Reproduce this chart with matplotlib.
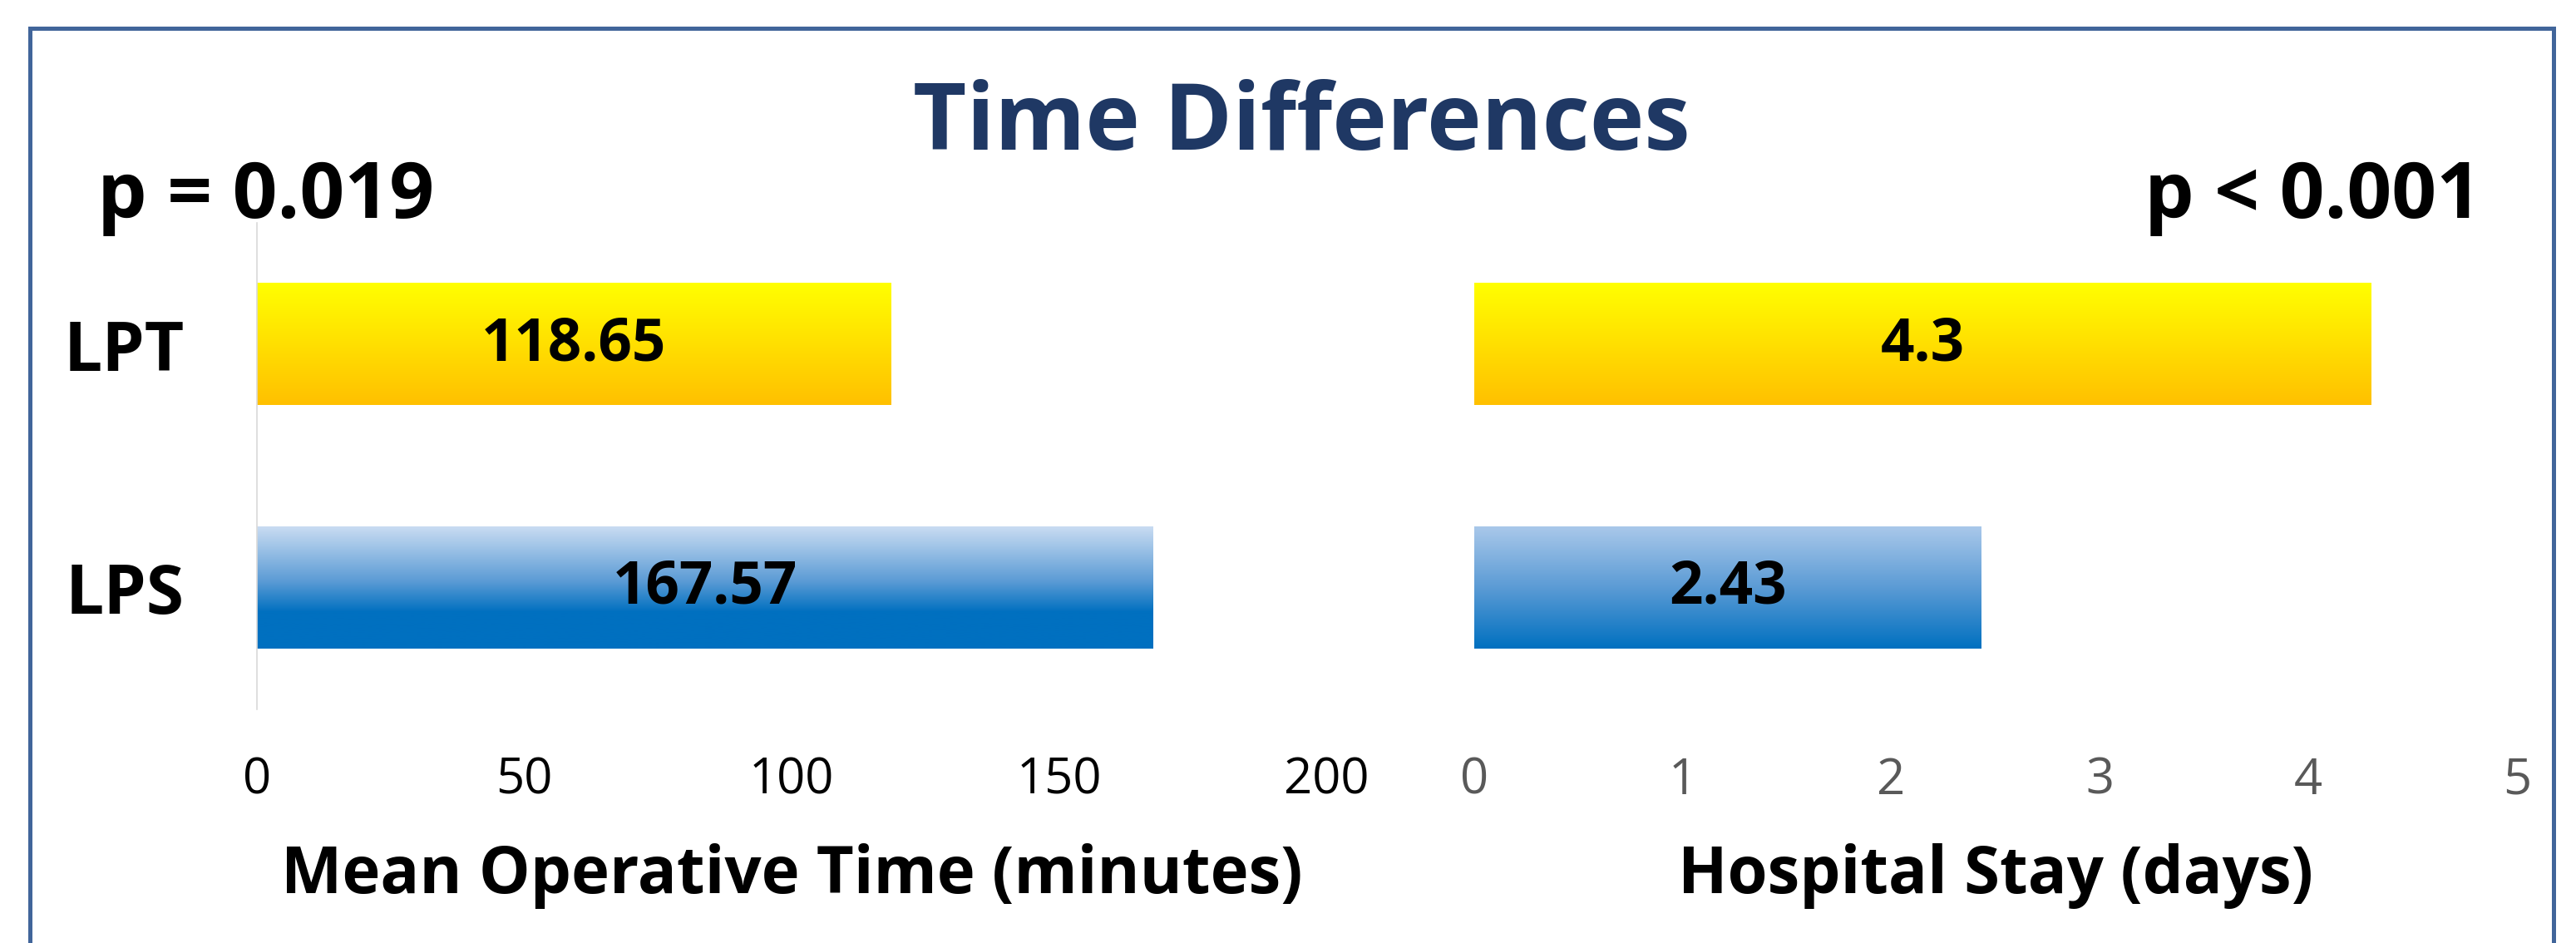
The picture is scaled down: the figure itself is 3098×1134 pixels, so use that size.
import numpy as np
import matplotlib
matplotlib.use("Agg")
import matplotlib.pyplot as plt
from matplotlib.colors import LinearSegmentedColormap
from matplotlib.patches import Rectangle

plt.rcParams['font.family'] = ['Open Sans', 'DejaVu Sans']

# данные
groups = ['LPT', 'LPS']
op_time = [118.65, 167.57]
stay_days = [4.3, 2.43]
op_ticks = [0, 50, 100, 150, 200]
stay_ticks = [0, 1, 2, 3, 4, 5]

W, H = 3098, 1134
fig = plt.figure(figsize=(W / 100, H / 100), dpi=100)

# градиенты для столбцов (сверху вниз)
yellow = LinearSegmentedColormap.from_list('y', ['#FFC000', '#FFFF00'])
blue_left = LinearSegmentedColormap.from_list(
    'bl', [(0, '#0070C0'), (0.3, '#0070C0'), (0.55, '#5B9BD5'), (1, '#C9DCF2')])
blue_right = LinearSegmentedColormap.from_list(
    'br', [(0, '#0070C0'), (0.5, '#5B9BD5'), (1, '#A9C8EA')])


def gradient_bars(ax, values, cmaps, xmax, ticks, tick_color):
    bars = ax.barh(groups, values, height=0.5, color='none', zorder=2)
    grad = np.linspace(0, 1, 256).reshape(-1, 1)
    for bar, cmap in zip(bars, cmaps):
        x0, y0 = bar.get_x(), bar.get_y()
        w, h = bar.get_width(), bar.get_height()
        ax.imshow(grad, cmap=cmap, origin='lower', aspect='auto',
                  extent=(x0, x0 + w, y0 + h, y0), zorder=1)
    ax.bar_label(bars, labels=[f'{v:g}' for v in values], label_type='center',
                 fontsize=51, fontweight='bold', color='black', zorder=5)
    ax.set_xlim(0, xmax)
    ax.set_ylim(1.5, -0.5)
    ax.set_xticks(ticks)
    ax.tick_params(axis='x', length=0, pad=40, labelsize=43, labelcolor=tick_color)
    for s in ax.spines.values():
        s.set_visible(False)
    return bars


ax1 = fig.add_axes([309 / W, 1 - 853 / H, 1286 / W, 585 / H])
gradient_bars(ax1, op_time, [yellow, blue_left], 200, op_ticks, 'black')
ax1.spines['left'].set_visible(True)
ax1.spines['left'].set_color('#D9D9D9')
ax1.spines['left'].set_linewidth(1.2)
ax1.tick_params(axis='y', length=0, pad=63, labelsize=59)
for lbl in ax1.get_yticklabels():
    lbl.set_fontweight('bold')
ax1.set_xlabel('Mean Operative Time (minutes)', fontsize=56, fontweight='bold')
ax1.xaxis.set_label_coords(0.5, (853 - 1074) / 585)
ax1.xaxis.label.set_va('baseline')

ax2 = fig.add_axes([1773 / W, 1 - 853 / H, 1254 / W, 585 / H])
gradient_bars(ax2, stay_days, [yellow, blue_right], 5, stay_ticks, '#595959')
ax2.set_yticks([])
ax2.set_xlabel('Hospital Stay (days)', fontsize=56, fontweight='bold')
ax2.xaxis.set_label_coords(0.5, (853 - 1074) / 585)
ax2.xaxis.label.set_va('baseline')

# заголовок и p-значения
fig.text(1565 / W, 1 - 180 / H, 'Time Differences', ha='center', va='baseline',
         fontsize=80, fontweight='bold', color='#1F3864')
fig.text(117 / W, 1 - 262 / H, 'p = 0.019', ha='left', va='baseline',
         fontsize=68, fontweight='bold')
fig.text(2984 / W, 1 - 262 / H, 'p < 0.001', ha='right', va='baseline',
         fontsize=68, fontweight='bold')

# рамка
fig.patches.append(Rectangle((36 / W, -0.1), (3071 - 36) / W, 1.1 - 34 / H,
                             transform=fig.transFigure, fill=False,
                             edgecolor='#41659A', linewidth=3.6))

fig.savefig('out.png', dpi=100, facecolor='white')
